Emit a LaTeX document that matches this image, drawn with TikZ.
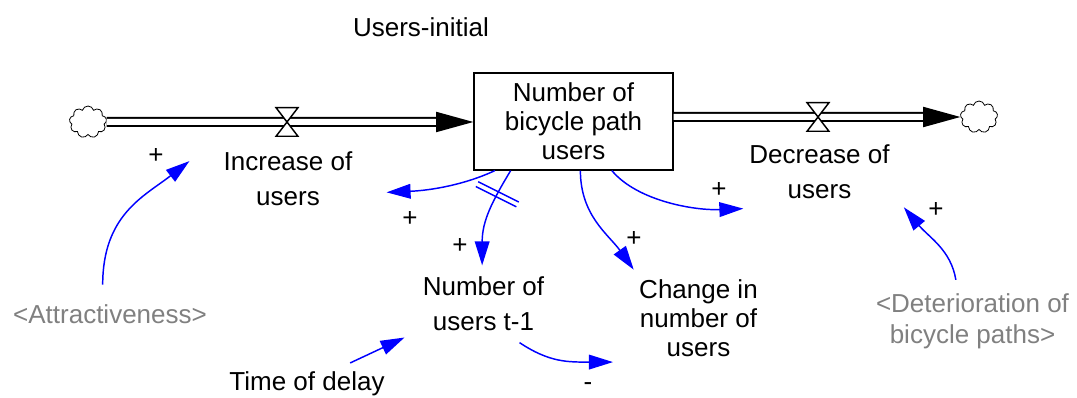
\documentclass[tikz,border=0pt]{standalone}
\usepackage{fontspec}
\setmainfont{Liberation Sans}
\usetikzlibrary{arrows.meta,shapes.symbols,decorations.markings}
\definecolor{linkblue}{RGB}{0,0,255}
\definecolor{shadowgray}{RGB}{128,128,128}
\tikzset{
    every node/.style={font=\fontsize{19.5pt}{23.25pt}\selectfont},
    wide/.style={font=\fontsize{19.5pt}{26pt}\selectfont, align=center},
    tight/.style={font=\fontsize{19.5pt}{21.75pt}\selectfont, align=center},
    stock/.style={draw, line width=0.9pt, minimum width=149.25pt, minimum height=72.75pt, inner sep=0pt, tight},
    cloudy/.style={cloud, cloud puffs=9, cloud ignores aspect, draw, line width=0.6pt, minimum width=28pt, minimum height=24pt, inner sep=0pt},
    valve/.style={minimum width=16pt, minimum height=21pt, inner sep=0pt},
    valvebody/.style={draw, fill=white, line width=1.1pt, line join=miter},
    pipe/.style={double, line width=1.5pt, double distance=4.5pt, -{Triangle[length=28pt,width=15pt]}},
    link/.style={draw=linkblue, line width=1.1pt, -{Triangle[length=18pt,width=11pt]}, fill=none},
    ghost/.style={text=shadowgray, align=center},
    delaymark/.style={postaction={decorate, decoration={markings,
        mark=at position 0.27 with {\draw[-, linkblue, line width=1.1pt] (-2pt,-17pt) -- (-2pt,17pt); \draw[-, linkblue, line width=1.1pt] (2pt,-17pt) -- (2pt,17pt);}}}}
}
\begin{document}
\begin{tikzpicture}[x=0.75pt, y=-0.75pt]
                \useasboundingbox (0,0) rectangle (1077,398);
                \node (init) at (421,27) {Users-initial};
                \node[stock] (box) at (573.5,121.5) {Number of\\bicycle path\\users};
                \node[cloudy] (cin) at (88,122) {};
                \node[cloudy] (cout) at (979,117) {};
                \node[valve] (vin) at (287,122) {};
                \node[valve] (vout) at (818,117) {};
                \node[wide, inner xsep=25.5pt, inner ysep=3pt] (inc) at (288,178.5) {Increase of\\users};
                \node[wide, inner xsep=10.5pt, inner ysep=7.5pt] (dec) at (819.5,171.5) {Decrease of\\users};
                \node[wide, inner xsep=13.5pt, inner ysep=8.6pt] (prev) at (483.5,304) {Number of\\users t-1};
                \node[tight, inner xsep=19.5pt, inner ysep=7.5pt] (chg) at (698.5,318.5) {Change in\\number of\\users};
                \node[ghost, inner ysep=14.6pt] (attr) at (110,314) {\textless Attractiveness\textgreater};
                \node[ghost, inner ysep=10pt] (det) at (972.5,321) {\textless Deterioration of\\bicycle paths\textgreater};
                \node[inner ysep=6.5pt] (tdel) at (307,384) {Time of delay};

                \draw[pipe] (cin.east) -- (cin -| box.west);
                \draw[pipe] (box.east |- cout) -- (cout.west);
                \draw[valvebody] (vin.north west) -- (vin.north east) -- (vin.south west) -- (vin.south east) -- cycle;
                \draw[valvebody] (vout.north west) -- (vout.north east) -- (vout.south west) -- (vout.south east) -- cycle;

                \draw[link] (attr.104) .. controls +(0,-70) and +(-45,35) .. (inc.170);
                \draw[link] (box.-148) .. controls +(-30,14) and +(45,-2) .. (inc.-8);
                \draw[link, delaymark] (box.-142) .. controls +(-18,30) and +(0,-45) .. (prev.92);
                \draw[link] (box.-82) .. controls +(0,45) and +(-25,-35) .. (chg.143);
                \draw[link] (box.-52) .. controls +(25,30) and +(-50,2) .. (dec.-154);
                \draw[link] (det.112) .. controls +(-5,-30) and +(25,30) .. (dec.-23);
                \draw[link] (tdel.26) -- (prev.-157);
                \draw[link] (prev.-47) .. controls +(30,20) and +(-45,0) .. (chg.207);

                \node (sgnA) at (156,156) {+};
                \node (sgnB) at (410,219) {+};
                \node (sgnC) at (460,246) {+};
                \node (sgnD) at (634,239) {+};
                \node (sgnE) at (719,190) {+};
                \node (sgnF) at (936,210) {+};
                \node (sgnG) at (588,387) {-};
            \end{tikzpicture}
\end{document}
